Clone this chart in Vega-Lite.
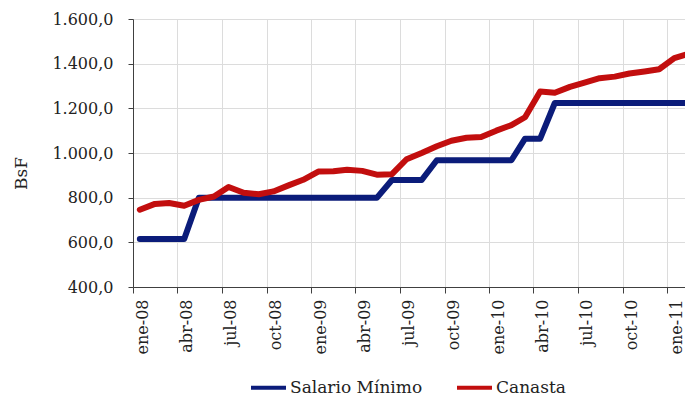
{
  "$schema": "https://vega.github.io/schema/vega-lite/v6.json",
  "autosize": {"type": "none"},
  "padding": {"left": 133, "top": 19, "right": 0, "bottom": 109},
  "width": 552,
  "height": 268,
  "background": "white",
  "config": {
    "view": {"stroke": null},
    "font": "DejaVu Serif"
  },
  "data": {
    "values": [
      {"fecha": "2008/01/15", "serie": "Salario Mínimo", "valor": 614.79},
      {"fecha": "2008/02/15", "serie": "Salario Mínimo", "valor": 614.79},
      {"fecha": "2008/03/15", "serie": "Salario Mínimo", "valor": 614.79},
      {"fecha": "2008/04/15", "serie": "Salario Mínimo", "valor": 614.79},
      {"fecha": "2008/05/15", "serie": "Salario Mínimo", "valor": 799.23},
      {"fecha": "2008/06/15", "serie": "Salario Mínimo", "valor": 799.23},
      {"fecha": "2008/07/15", "serie": "Salario Mínimo", "valor": 799.23},
      {"fecha": "2008/08/15", "serie": "Salario Mínimo", "valor": 799.23},
      {"fecha": "2008/09/15", "serie": "Salario Mínimo", "valor": 799.23},
      {"fecha": "2008/10/15", "serie": "Salario Mínimo", "valor": 799.23},
      {"fecha": "2008/11/15", "serie": "Salario Mínimo", "valor": 799.23},
      {"fecha": "2008/12/15", "serie": "Salario Mínimo", "valor": 799.23},
      {"fecha": "2009/01/15", "serie": "Salario Mínimo", "valor": 799.23},
      {"fecha": "2009/02/15", "serie": "Salario Mínimo", "valor": 799.23},
      {"fecha": "2009/03/15", "serie": "Salario Mínimo", "valor": 799.23},
      {"fecha": "2009/04/15", "serie": "Salario Mínimo", "valor": 799.23},
      {"fecha": "2009/05/15", "serie": "Salario Mínimo", "valor": 799.23},
      {"fecha": "2009/06/15", "serie": "Salario Mínimo", "valor": 879.15},
      {"fecha": "2009/07/15", "serie": "Salario Mínimo", "valor": 879.15},
      {"fecha": "2009/08/15", "serie": "Salario Mínimo", "valor": 879.15},
      {"fecha": "2009/09/15", "serie": "Salario Mínimo", "valor": 967.5},
      {"fecha": "2009/10/15", "serie": "Salario Mínimo", "valor": 967.5},
      {"fecha": "2009/11/15", "serie": "Salario Mínimo", "valor": 967.5},
      {"fecha": "2009/12/15", "serie": "Salario Mínimo", "valor": 967.5},
      {"fecha": "2010/01/15", "serie": "Salario Mínimo", "valor": 967.5},
      {"fecha": "2010/02/15", "serie": "Salario Mínimo", "valor": 967.5},
      {"fecha": "2010/03/15", "serie": "Salario Mínimo", "valor": 1064.25},
      {"fecha": "2010/04/15", "serie": "Salario Mínimo", "valor": 1064.25},
      {"fecha": "2010/05/15", "serie": "Salario Mínimo", "valor": 1223.89},
      {"fecha": "2010/06/15", "serie": "Salario Mínimo", "valor": 1223.89},
      {"fecha": "2010/07/15", "serie": "Salario Mínimo", "valor": 1223.89},
      {"fecha": "2010/08/15", "serie": "Salario Mínimo", "valor": 1223.89},
      {"fecha": "2010/09/15", "serie": "Salario Mínimo", "valor": 1223.89},
      {"fecha": "2010/10/15", "serie": "Salario Mínimo", "valor": 1223.89},
      {"fecha": "2010/11/15", "serie": "Salario Mínimo", "valor": 1223.89},
      {"fecha": "2010/12/15", "serie": "Salario Mínimo", "valor": 1223.89},
      {"fecha": "2011/01/15", "serie": "Salario Mínimo", "valor": 1223.89},
      {"fecha": "2011/02/15", "serie": "Salario Mínimo", "valor": 1223.89},
      {"fecha": "2008/01/15", "serie": "Canasta", "valor": 746},
      {"fecha": "2008/02/15", "serie": "Canasta", "valor": 772},
      {"fecha": "2008/03/15", "serie": "Canasta", "valor": 776},
      {"fecha": "2008/04/15", "serie": "Canasta", "valor": 764},
      {"fecha": "2008/05/15", "serie": "Canasta", "valor": 790},
      {"fecha": "2008/06/15", "serie": "Canasta", "valor": 805},
      {"fecha": "2008/07/15", "serie": "Canasta", "valor": 848},
      {"fecha": "2008/08/15", "serie": "Canasta", "valor": 822},
      {"fecha": "2008/09/15", "serie": "Canasta", "valor": 815},
      {"fecha": "2008/10/15", "serie": "Canasta", "valor": 828},
      {"fecha": "2008/11/15", "serie": "Canasta", "valor": 855},
      {"fecha": "2008/12/15", "serie": "Canasta", "valor": 880},
      {"fecha": "2009/01/15", "serie": "Canasta", "valor": 917},
      {"fecha": "2009/02/15", "serie": "Canasta", "valor": 918},
      {"fecha": "2009/03/15", "serie": "Canasta", "valor": 925},
      {"fecha": "2009/04/15", "serie": "Canasta", "valor": 920},
      {"fecha": "2009/05/15", "serie": "Canasta", "valor": 903},
      {"fecha": "2009/06/15", "serie": "Canasta", "valor": 905},
      {"fecha": "2009/07/15", "serie": "Canasta", "valor": 972},
      {"fecha": "2009/08/15", "serie": "Canasta", "valor": 1000},
      {"fecha": "2009/09/15", "serie": "Canasta", "valor": 1030},
      {"fecha": "2009/10/15", "serie": "Canasta", "valor": 1055},
      {"fecha": "2009/11/15", "serie": "Canasta", "valor": 1068},
      {"fecha": "2009/12/15", "serie": "Canasta", "valor": 1072},
      {"fecha": "2010/01/15", "serie": "Canasta", "valor": 1100},
      {"fecha": "2010/02/15", "serie": "Canasta", "valor": 1125},
      {"fecha": "2010/03/15", "serie": "Canasta", "valor": 1160},
      {"fecha": "2010/04/15", "serie": "Canasta", "valor": 1275},
      {"fecha": "2010/05/15", "serie": "Canasta", "valor": 1270},
      {"fecha": "2010/06/15", "serie": "Canasta", "valor": 1296},
      {"fecha": "2010/07/15", "serie": "Canasta", "valor": 1315},
      {"fecha": "2010/08/15", "serie": "Canasta", "valor": 1335},
      {"fecha": "2010/09/15", "serie": "Canasta", "valor": 1342},
      {"fecha": "2010/10/15", "serie": "Canasta", "valor": 1356},
      {"fecha": "2010/11/15", "serie": "Canasta", "valor": 1365},
      {"fecha": "2010/12/15", "serie": "Canasta", "valor": 1375},
      {"fecha": "2011/01/15", "serie": "Canasta", "valor": 1425},
      {"fecha": "2011/02/15", "serie": "Canasta", "valor": 1445}
    ]
  },
  "mark": {"type": "line", "strokeWidth": 6, "clip": true, "strokeJoin": "round", "strokeCap": "round"},
  "encoding": {
    "x": {
      "field": "fecha",
      "type": "temporal",
      "scale": {"domain": [{"year": 2008, "month": 1, "date": 1}, {"year": 2011, "month": 2, "date": 6}]},
      "axis": {
        "title": null,
        "values": [
          {"year": 2008, "month": 1, "date": 1}, {"year": 2008, "month": 4, "date": 1}, {"year": 2008, "month": 7, "date": 1}, {"year": 2008, "month": 10, "date": 1},
          {"year": 2009, "month": 1, "date": 1}, {"year": 2009, "month": 4, "date": 1}, {"year": 2009, "month": 7, "date": 1}, {"year": 2009, "month": 10, "date": 1},
          {"year": 2010, "month": 1, "date": 1}, {"year": 2010, "month": 4, "date": 1}, {"year": 2010, "month": 7, "date": 1}, {"year": 2010, "month": 10, "date": 1},
          {"year": 2011, "month": 1, "date": 1}
        ],
        "labelExpr": "['ene','feb','mar','abr','may','jun','jul','ago','sep','oct','nov','dic'][month(datum.value)] + '-' + timeFormat(datum.value, '%y')",
        "labelAngle": -90,
        "labelOffset": 9,
        "labelPadding": 6,
        "labelFont": "DejaVu Serif",
        "labelFontSize": 16,
        "labelColor": "#222222",
        "labelOverlap": false,
        "labelFlush": false,
        "tickSize": 6,
        "tickColor": "#404040",
        "domainColor": "#404040",
        "grid": true,
        "gridColor": "#dcdcdc",
        "gridWidth": 1
      }
    },
    "y": {
      "field": "valor",
      "type": "quantitative",
      "scale": {"domain": [400, 1600], "nice": false, "zero": false},
      "axis": {
        "title": "BsF",
        "titleFont": "DejaVu Serif",
        "titleFontSize": 17,
        "titleFontWeight": "normal",
        "titleColor": "#222222",
        "titleAngle": -90,
        "titleAlign": "center",
        "titleBaseline": "bottom",
        "titleX": -103,
        "titleY": 154,
        "values": [400, 600, 800, 1000, 1200, 1400, 1600],
        "labelExpr": "replace(replace(replace(format(datum.value, ',.1f'), ',', '#'), '.', ','), '#', '.')",
        "labelFont": "DejaVu Serif",
        "labelFontSize": 16,
        "labelColor": "#222222",
        "labelPadding": 15,
        "tickSize": 5,
        "tickColor": "#404040",
        "domainColor": "#404040",
        "grid": true,
        "gridColor": "#dcdcdc",
        "gridWidth": 1
      }
    },
    "color": {
      "field": "serie",
      "type": "nominal",
      "sort": ["Salario Mínimo", "Canasta"],
      "scale": {"domain": ["Salario Mínimo", "Canasta"], "range": ["#0b1c7a", "#c20e0e"]},
      "legend": {
        "title": null,
        "orient": "none",
        "direction": "horizontal",
        "legendX": 116,
        "legendY": 349,
        "symbolType": "stroke",
        "symbolSize": 1225,
        "symbolStrokeWidth": 4,
        "labelFont": "DejaVu Serif",
        "labelFontSize": 17,
        "labelColor": "#222222",
        "labelOffset": 2,
        "columnPadding": 26,
        "labelLimit": 300
      }
    }
  }
}
